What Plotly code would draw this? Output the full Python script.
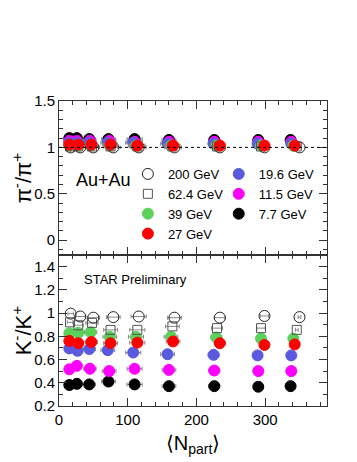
import plotly.graph_objects as go
from plotly.subplots import make_subplots

# centrality bins, central -> peripheral
npart_200 = [350, 299, 234, 168, 116, 79, 50, 31, 17]
npart_62 = [346, 294, 230, 165, 114, 75, 48, 28, 16]
npart_39 = [341, 294, 229, 163, 112, 74, 46, 28, 15]
npart_27 = [343, 299, 234, 166, 114, 75, 47, 28, 15]
npart_19 = [338, 289, 225, 158, 108, 71, 44, 27, 15]
npart_11 = [338, 290, 226, 160, 110, 73, 45, 26, 15]
npart_7 = [337, 290, 226, 160, 110, 72, 44, 26, 15]
npart_err = [2, 6, 8, 10, 11, 10, 9, 7, 4]

# pi-/pi+
pi_200 = [1.00, 1.00, 1.00, 1.00, 1.00, 1.00, 1.00, 1.00, 1.00]
pi_62 = [1.01, 1.01, 1.01, 1.01, 1.01, 1.01, 1.01, 1.01, 1.01]
pi_39 = [1.02, 1.02, 1.02, 1.02, 1.02, 1.02, 1.02, 1.02, 1.02]
pi_27 = [1.02, 1.02, 1.02, 1.02, 1.02, 1.03, 1.03, 1.03, 1.03]
pi_19 = [1.04, 1.04, 1.04, 1.04, 1.05, 1.05, 1.05, 1.05, 1.05]
pi_11 = [1.06, 1.06, 1.06, 1.06, 1.06, 1.07, 1.07, 1.07, 1.07]
pi_7 = [1.08, 1.08, 1.08, 1.08, 1.09, 1.09, 1.09, 1.10, 1.10]

# K-/K+
k_200 = [0.965, 0.975, 0.96, 0.96, 0.97, 0.965, 0.96, 0.97, 0.995]
k_62 = [0.855, 0.87, 0.87, 0.885, 0.855, 0.855, 0.915, 0.895, 0.92]
k_39 = [0.78, 0.78, 0.79, 0.795, 0.795, 0.795, 0.835, 0.83, 0.825]
k_27 = [0.73, 0.725, 0.74, 0.755, 0.745, 0.74, 0.75, 0.74, 0.76]
k_19 = [0.635, 0.635, 0.64, 0.645, 0.66, 0.68, 0.69, 0.675, 0.695]
k_11 = [0.50, 0.50, 0.505, 0.51, 0.52, 0.50, 0.52, 0.545, 0.515]
k_7 = [0.37, 0.365, 0.37, 0.37, 0.385, 0.41, 0.385, 0.39, 0.38]

FONT = "Liberation Sans, Arial, sans-serif"

# name, npart, pi, K, symbol, colour, legend
series = [
    ("7.7 GeV", npart_7, pi_7, k_7, "circle", "black", "legend2"),
    ("11.5 GeV", npart_11, pi_11, k_11, "circle", "#ff00ff", "legend2"),
    ("19.6 GeV", npart_19, pi_19, k_19, "circle", "#5a5ade", "legend2"),
    ("39 GeV", npart_39, pi_39, k_39, "circle", "#5ad25a", "legend"),
    ("62.4 GeV", npart_62, pi_62, k_62, "square-open", "#555555", "legend"),
    ("200 GeV", npart_200, pi_200, k_200, "circle-open", "#222222", "legend"),
    ("27 GeV", npart_27, pi_27, k_27, "circle", "#ff0000", "legend"),
]
legend_rank = {"200 GeV": 1, "62.4 GeV": 2, "39 GeV": 3, "27 GeV": 4,
               "19.6 GeV": 5, "11.5 GeV": 6, "7.7 GeV": 7}

fig = make_subplots(rows=2, cols=1, vertical_spacing=0, row_heights=[0.505, 0.495])

for name, npart, pi, kk, sym, col, leg in series:
    size = 9 if sym.startswith("square") else 11
    mk = dict(symbol=sym, size=size, color=col, line=dict(color=col, width=1))
    ex = dict(type="data", array=npart_err, color="#888888", thickness=1, width=2)
    fig.add_trace(go.Scatter(x=npart, y=pi, mode="markers", name=name, marker=mk,
                             error_x=ex, legend=leg, legendrank=legend_rank[name]),
                  row=1, col=1)
    fig.add_trace(go.Scatter(x=npart, y=kk, mode="markers", name=name, marker=mk,
                             error_x=ex, showlegend=False),
                  row=2, col=1)

axis_common = dict(showline=True, linecolor="#333333", linewidth=1, mirror="ticks",
                   ticks="inside", ticklen=8, tickcolor="#333333", showgrid=False,
                   zeroline=False, automargin=False,
                   tickfont=dict(family=FONT, size=15, color="black"),
                   minor=dict(ticks="inside", ticklen=4, tickcolor="#333333"))

fig.update_xaxes(range=[0, 390], dtick=100, **axis_common)
fig.update_xaxes(minor_dtick=20)
fig.update_xaxes(showticklabels=False, row=1, col=1)
fig.update_xaxes(title=dict(text="⟨N<sub>part</sub>⟩", font=dict(family=FONT, size=20),
                            standoff=8), row=2, col=1)

fig.update_yaxes(**axis_common)
fig.update_yaxes(range=[-0.16, 1.5], dtick=0.5, minor_dtick=0.1, row=1, col=1,
                 title=dict(text="π<sup>-</sup>/π<sup>+</sup>",
                            font=dict(family=FONT, size=22), standoff=6))
fig.update_yaxes(range=[0.199, 1.5], dtick=0.2, minor_dtick=0.1, row=2, col=1,
                 title=dict(text="K<sup>-</sup>/K<sup>+</sup>",
                            font=dict(family=FONT, size=22), standoff=6))

fig.add_shape(type="line", xref="x domain", yref="y", x0=0, x1=1, y0=1, y1=1,
              line=dict(color="black", width=1, dash="dot"))

fig.add_annotation(text="Au+Au", xref="paper", yref="paper", x=0.056, y=0.741,
                   xanchor="left", yanchor="middle", showarrow=False,
                   font=dict(family=FONT, size=18, color="black"))
fig.add_annotation(text="STAR Preliminary", xref="paper", yref="paper", x=0.085,
                   y=0.416, xanchor="left", yanchor="middle", showarrow=False,
                   font=dict(family=FONT, size=13, color="black"))

legend_style = dict(font=dict(family=FONT, size=13, color="black"),
                    bgcolor="rgba(0,0,0,0)", itemwidth=30, xanchor="left",
                    yanchor="top", tracegroupgap=0)
# page body keeps its default 8px margin, so the figure is 8px smaller
fig.update_layout(
    width=349, height=454,
    margin=dict(l=51, r=30, t=93, b=56),
    plot_bgcolor="white", paper_bgcolor="white",
    font=dict(family=FONT, color="black"),
    legend=dict(x=0.257, y=0.81, **legend_style),
    legend2=dict(x=0.596, y=0.81, **legend_style),
)

fig.write_html("out.html")
